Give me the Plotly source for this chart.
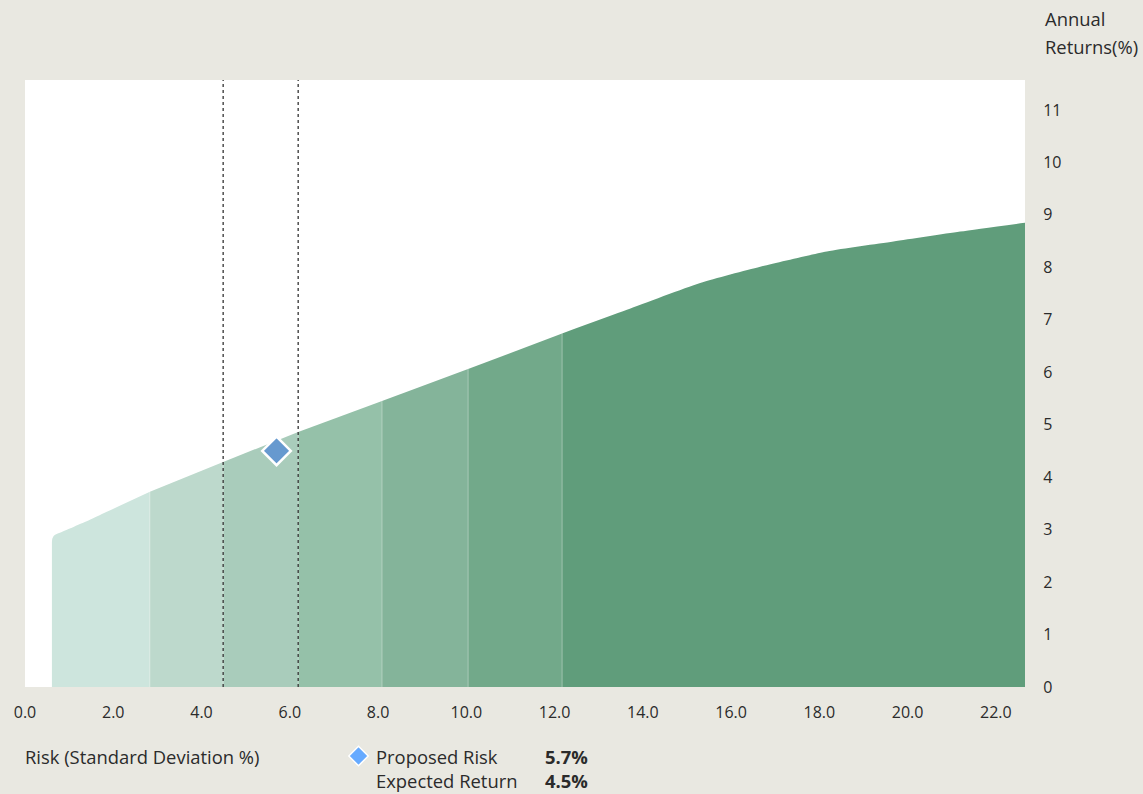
import plotly.graph_objects as go

# Efficient frontier: risk (std dev %) vs annual return (%)
frontier_risk = [0.61, 0.62, 0.66, 0.79, 1.47, 2.83, 4.49, 6.19, 8.09, 10.04,
                 12.17, 13.64, 15.30, 16.66, 18.17, 19.68, 21.19, 22.66]
frontier_return = [2.76, 2.83, 2.89, 2.94, 3.19, 3.72, 4.29, 4.86, 5.45, 6.06,
                   6.74, 7.19, 7.70, 8.01, 8.30, 8.49, 8.68, 8.85]

# Risk band edges along the frontier and their fills (light -> dark)
band_edges = [0.61, 2.83, 4.49, 6.19, 8.09, 10.04, 12.17, 22.66]
band_colors = ["#CDE5DD", "#BDD9CC", "#A9CCBB", "#95C1A9",
               "#84B49A", "#72A98A", "#609D7B"]

# Suitable risk range (dotted guides)
range_low, range_high = 4.49, 6.19

# Proposed portfolio
proposed_risk = 5.7
expected_return = 4.5

x_ticks = [0, 2, 4, 6, 8, 10, 12, 14, 16, 18, 20, 22]
y_ticks = list(range(0, 12))

FONT = "Open Sans"
TEXT = "#2b2b2b"
BG = "#E9E8E1"
LABEL_SIZE = 18.4

fig = go.Figure()

for i, color in enumerate(band_colors):
    lo, hi = band_edges[i], band_edges[i + 1]
    xs = [x for x in frontier_risk if lo <= x <= hi]
    ys = [frontier_return[frontier_risk.index(x)] for x in xs]
    fig.add_trace(go.Scatter(
        x=xs, y=ys, mode="lines", fill="tozeroy", fillcolor=color,
        line=dict(color=color, width=0, shape="spline", smoothing=0.6),
        hoverinfo="skip", showlegend=False,
    ))

# faint seams between bands
for edge in band_edges[1:-1]:
    top = frontier_return[frontier_risk.index(edge)]
    fig.add_trace(go.Scatter(
        x=[edge, edge], y=[0, top], mode="lines",
        line=dict(color="rgba(255,255,255,0.3)", width=1),
        hoverinfo="skip", showlegend=False,
    ))

# proposed portfolio marker
fig.add_trace(go.Scatter(
    x=[proposed_risk], y=[expected_return], mode="markers",
    marker=dict(symbol="diamond", size=22, color="#6699CF",
                line=dict(color="white", width=2.5)),
    hoverinfo="skip", showlegend=False,
))

for xv in (range_low, range_high):
    fig.add_shape(type="line", xref="x", yref="paper", x0=xv, x1=xv, y0=0, y1=1,
                  line=dict(color="#333333", width=1.3, dash="dot"))

# legend glyph
cx, cy, hx, hy = 0.3335, -0.1137, 0.0097, 0.016
fig.add_shape(type="path", xref="paper", yref="paper",
              path=f"M {cx-hx},{cy} L {cx},{cy+hy} L {cx+hx},{cy} L {cx},{cy-hy} Z",
              fillcolor="#66AAFF", line=dict(color="white", width=1.5))

ann = [
    dict(text="Risk (Standard Deviation %)", x=-0.002, y=-0.1137),
    dict(text="Proposed Risk", x=0.349, y=-0.1137),
    dict(text="Expected Return", x=0.349, y=-0.1540),
    dict(text=f"<b>{proposed_risk:.1f}%</b>", x=0.518, y=-0.1137),
    dict(text=f"<b>{expected_return:.1f}%</b>", x=0.518, y=-0.1540),
    dict(text="Annual", x=1.0175, y=1.101),
    dict(text="Returns(%)", x=1.0175, y=1.055),
]
for a in ann:
    fig.add_annotation(text=a["text"], x=a["x"], y=a["y"], xref="paper", yref="paper",
                       xanchor="left", yanchor="middle", showarrow=False,
                       font=dict(family=FONT, size=LABEL_SIZE, color=TEXT))

fig.update_layout(
    width=1143, height=794,
    margin=dict(l=25, r=118, t=80, b=107),
    paper_bgcolor=BG, plot_bgcolor="white",
    font=dict(family=FONT, size=16, color=TEXT),
    xaxis=dict(range=[0, 22.66], tickvals=x_ticks,
               ticktext=[f"{v:.1f}" for v in x_ticks],
               showgrid=False, zeroline=False, showline=False,
               ticks="outside", ticklen=11, tickcolor="rgba(0,0,0,0)"),
    yaxis=dict(range=[0, 11.57], tickvals=y_ticks, side="right",
               showgrid=False, zeroline=False, showline=False,
               ticks="outside", ticklen=14, tickcolor="rgba(0,0,0,0)"),
)

fig.write_html("out.html")
